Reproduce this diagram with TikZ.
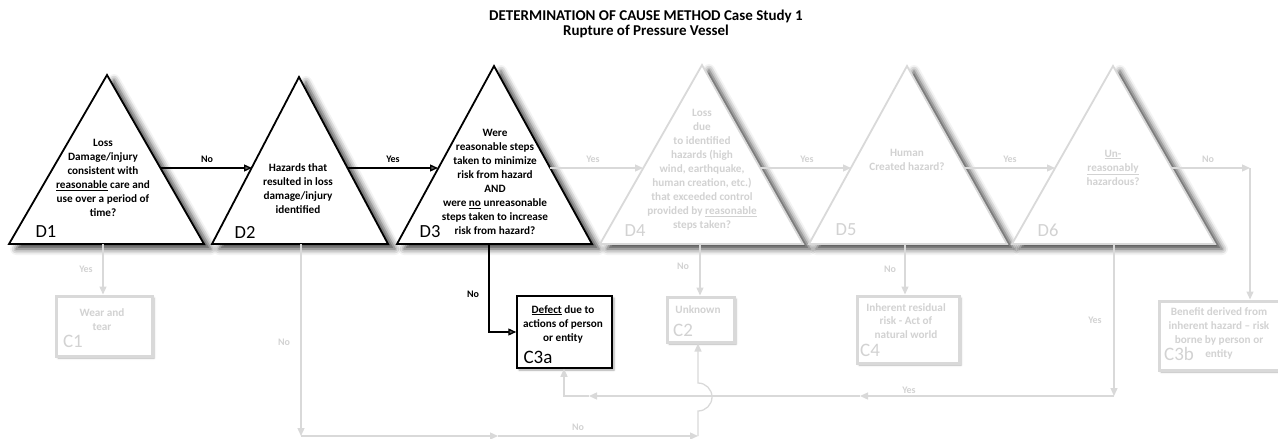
\documentclass[tikz,border=0pt]{standalone}
\usepackage{fontspec}
\setmainfont{Carlito}
\usetikzlibrary{arrows.meta,shadows.blur,calc}
\definecolor{lg}{HTML}{D9D9D9}
\definecolor{lt}{HTML}{D2D2D2}
\begin{document}
\begin{tikzpicture}[x=1pt,y=-1pt,
  tri/.style={fill=white, line width=1.8pt, line join=miter,
    blur shadow={shadow xshift=7pt, shadow yshift=-5pt, shadow blur radius=6pt, shadow opacity=75}},
  ttxt/.style={font=\bfseries\fontsize{11.2}{14}\selectfont, align=center, inner sep=0pt},
  big/.style={font=\fontsize{18.5}{18.5}\selectfont, inner sep=0pt},
  bigc/.style={font=\fontsize{19}{19}\selectfont, inner sep=0pt},
  lab/.style={font=\bfseries\fontsize{10}{11}\selectfont, inner sep=0pt},
  conn/.style={line width=1.3pt, -{Triangle[length=8pt,width=7pt]}},
  cbox/.style={rectangle, inner sep=0pt, fill=white},
  graybox/.style={cbox, draw=lg, line width=3pt,
    blur shadow={shadow xshift=2pt, shadow yshift=-2pt, shadow blur radius=2pt, shadow opacity=30}},
  blackbox/.style={cbox, draw=black, line width=1.5pt,
    blur shadow={shadow xshift=2pt, shadow yshift=-2pt, shadow blur radius=2pt, shadow opacity=35}},
]
\useasboundingbox (0,0) rectangle (1278,439);

% title
\node[font=\bfseries\fontsize{15}{15}\selectfont, align=center, inner sep=0pt] (title) at (646,24)
  {DETERMINATION OF CAUSE METHOD Case Study 1\\Rupture of Pressure Vessel};

% triangle corner coordinates
\coordinate (D1bl) at (9,244);    \coordinate (D1top) at (107,75);  \coordinate (D1br) at (204,244);
\coordinate (D2bl) at (212,244);  \coordinate (D2top) at (299,77);  \coordinate (D2br) at (388,244);
\coordinate (D3bl) at (397,244);  \coordinate (D3top) at (494,66);  \coordinate (D3br) at (592,244);
\coordinate (D4bl) at (600,244);  \coordinate (D4top) at (702,65);  \coordinate (D4br) at (803,244);
\coordinate (D5bl) at (809,244);  \coordinate (D5top) at (907,66);  \coordinate (D5br) at (1007,244);
\coordinate (D6bl) at (1012,244); \coordinate (D6top) at (1113,66); \coordinate (D6br) at (1215,244);

\draw[tri, draw=black] (D1bl) -- (D1top) -- (D1br) -- cycle;
\draw[tri, draw=black] (D2bl) -- (D2top) -- (D2br) -- cycle;
\draw[tri, draw=black] (D3bl) -- (D3top) -- (D3br) -- cycle;
\draw[tri, draw=lg] (D4bl) -- (D4top) -- (D4br) -- cycle;
\draw[tri, draw=lg] (D5bl) -- (D5top) -- (D5br) -- cycle;
\draw[tri, draw=lg] (D6bl) -- (D6top) -- (D6br) -- cycle;

% triangle texts
\node[ttxt] (t1) at (103,178) {Loss\\Damage/injury\\consistent with\\\underline{reasonable} care and\\use over a period of\\time?};
\node[ttxt] (t2) at (298,189) {Hazards that\\resulted in loss\\damage/injury\\identified};
\node[ttxt] (t3) at (495,182) {Were\\reasonable steps\\taken to minimize\\risk from hazard\\AND\\were \underline{no} unreasonable\\steps taken to increase\\risk from hazard?};
\node[ttxt, text=lt] (t4) at (702,170) {Loss\\due\\to identified\\hazards (high\\wind, earthquake,\\human creation, etc.)\\that exceeded control\\provided by \underline{reasonable}\\steps taken?};
\node[ttxt, text=lt] (t5) at (907,159.5) {Human\\Created hazard?};
\node[ttxt, text=lt] (t6) at (1113,167.5) {\underline{Un-}\\\underline{reasonably}\\hazardous?};

\node[big] (L1) at (46,232) {D1};
\node[big] (L2) at (245,232) {D2};
\node[big] (L3) at (430,232) {D3};
\node[big, text=lt] (L4) at (635,231) {D4};
\node[big, text=lt] (L5) at (846,230) {D5};
\node[big, text=lt] (L6) at (1048,230) {D6};

% outcome boxes
\node[graybox, minimum width=96pt, minimum height=60pt] (C1) at (104,326) {};
\node[blackbox, minimum width=95pt, minimum height=72pt] (C3a) at (564.5,332) {};
\node[graybox, minimum width=67pt, minimum height=45pt] (C2) at (700.5,319.5) {};
\node[graybox, minimum width=102pt, minimum height=67pt] (C4) at (908,329.5) {};
\node[graybox, minimum width=120pt, minimum height=69pt] (C3b) at (1219,335.5) {};

\node[ttxt, text=lt] (c1t) at (102,320) {Wear and\\tear};
\node[ttxt] (c3at) at (563,324) {\underline{Defect} due to\\actions of person\\or entity};
\node[ttxt, text=lt] (c2t) at (698,310) {Unknown};
\node[ttxt, text=lt, font=\bfseries\fontsize{11.2}{13.5}\selectfont] (c4t) at (906,321) {Inherent residual\\risk - Act of\\natural world};
\node[ttxt, text=lt] (c3bt) at (1219,333) {Benefit derived from\\inherent hazard -- risk\\borne by person or\\entity};

\node[bigc, text=lt] (K1) at (73,341) {C1};
\node[bigc] (K3a) at (538,357) {C3a};
\node[bigc, text=lt] (K2) at (683,330) {C2};
\node[bigc, text=lt] (K4) at (870,350) {C4};
\node[bigc, text=lt] (K3b) at (1179,354) {C3b};

% connector end points on triangle edges
\coordinate (D1r) at (160,168);  \coordinate (D2l) at (252,168);
\coordinate (D2r) at (347,168);  \coordinate (D3l) at (438,168);
\coordinate (D3r) at (550,168);  \coordinate (D4l) at (643,168);
\coordinate (D4r) at (760,168);  \coordinate (D5l) at (851,168);
\coordinate (D5r) at (964,168);  \coordinate (D6l) at (1055,168);
\coordinate (D6r) at (1171,168); \coordinate (D6turn) at (1250,168);

\coordinate (D1b) at (103,244);
\coordinate (D2b) at (301,244);
\coordinate (D3b) at (489,244);
\coordinate (D4b) at (700,244);
\coordinate (D5b) at (905,244);
\coordinate (D6b) at (1114,244);

\coordinate (D2corner) at (301,436);
\coordinate (nomid) at (498,436);
\coordinate (nocorner) at (698,436);
\coordinate (jumpA) at (698,411);
\coordinate (jumpB) at (698,383);
\coordinate (D6corner) at (1114,396);
\coordinate (yesmid1) at (860,396);
\coordinate (yesmid2) at (589,396);
\coordinate (yescorner) at (564,396);

% black connectors
\draw[conn] (D1r) -- (D2l);
\draw[conn] (D2r) -- (D3l);
\draw[conn] (D3b) -- (D3b |- C3a.west) -- (C3a.west);

% gray connectors
\begin{scope}[draw=lg, color=lg]
\draw[conn] (D3r) -- (D4l);
\draw[conn] (D4r) -- (D5l);
\draw[conn] (D5r) -- (D6l);
\draw[conn] (D6r) -- (D6turn);
\draw[conn] (D6turn) -- (D6turn |- C3b.north);
\draw[conn] (D1b) -- (D1b |- C1.north);
\draw[conn] (D4b) -- (D4b |- C2.north);
\draw[conn] (D5b) -- (D5b |- C4.north);
\draw[conn] (D2b) -- (D2corner);
\draw[conn] (D2corner) -- (nomid);
\draw[conn] (nomid) -- (nocorner);
\draw[conn] (nocorner) -- (jumpA) arc[start angle=90, end angle=-90, radius=14] -- (nocorner |- C2.south);
\draw[conn] (D6b) -- (D6corner);
\draw[conn] (D6corner) -- (yesmid1);
\draw[conn] (yesmid1) -- (yesmid2);
\draw[conn] (yesmid2) -- (yescorner) -- (yescorner |- C3a.south);
\end{scope}

% connector labels
\node[lab] (n12) at (207,159) {No};
\node[lab] (y23) at (393,159) {Yes};
\node[lab] (n3) at (473,294) {No};
\begin{scope}[text=lt]
\node[lab] (y34) at (593,159) {Yes};
\node[lab] (y45) at (807,159) {Yes};
\node[lab] (y56) at (1010,159) {Yes};
\node[lab] (n6) at (1208,159) {No};
\node[lab] (y1) at (86,269) {Yes};
\node[lab] (n2) at (284,342) {No};
\node[lab] (n4) at (683,266) {No};
\node[lab] (n5) at (890,269) {No};
\node[lab] (y6) at (1095,320) {Yes};
\node[lab] (y6b) at (909,390) {Yes};
\node[lab] (nbot) at (578,427) {No};
\end{scope}
\end{tikzpicture}
\end{document}
